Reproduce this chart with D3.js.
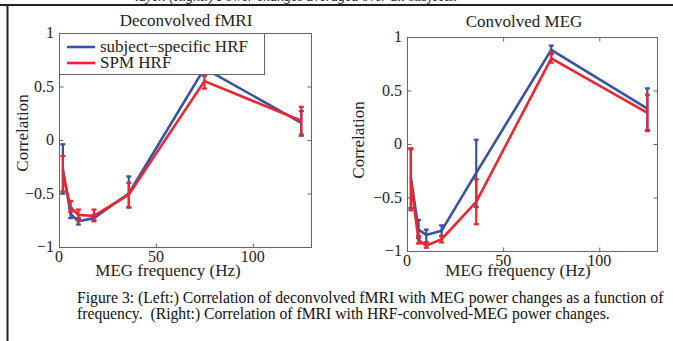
<!DOCTYPE html>
<html>
<head>
<meta charset="utf-8">
<script src="https://cdn.jsdelivr.net/npm/d3@7"></script>
<style>
  body { margin: 0; background: #fff; }
  svg text { font-family: "Liberation Serif", "Times New Roman", Times, serif; fill: #222; }
</style>
</head>
<body>
<div id="viz"></div>
<script>
// frequencies (Hz) shared by both panels
var freqs = [2, 6, 10, 18, 36, 75, 125];

// left panel: deconvolved fMRI
var leftSubjMean = [-0.27, -0.69, -0.76, -0.73, -0.50, 0.67, 0.16];
var leftSubjLo   = [-0.50, -0.73, -0.79, -0.75, -0.63, 0.60, 0.04];
var leftSubjHi   = [-0.04, -0.64, -0.73, -0.70, -0.34, 0.73, 0.27];
var leftSpmMean  = [-0.32, -0.63, -0.70, -0.71, -0.51, 0.55, 0.18];
var leftSpmLo    = [-0.48, -0.67, -0.75, -0.76, -0.63, 0.48, 0.05];
var leftSpmHi    = [-0.15, -0.57, -0.65, -0.65, -0.40, 0.61, 0.31];

// right panel: convolved MEG
var rightSubjMean = [-0.31, -0.80, -0.85, -0.81, -0.27, 0.88, 0.33];
var rightSubjLo   = [-0.60, -0.88, -0.92, -0.86, -0.59, 0.84, 0.13];
var rightSubjHi   = [-0.05, -0.71, -0.80, -0.76, 0.04, 0.92, 0.52];
var rightSpmMean  = [-0.35, -0.90, -0.95, -0.89, -0.54, 0.80, 0.29];
var rightSpmLo    = [-0.62, -0.93, -0.97, -0.92, -0.75, 0.76, 0.12];
var rightSpmHi    = [-0.04, -0.86, -0.92, -0.86, -0.33, 0.86, 0.46];

var xTicks = [0, 50, 100];
var yTicks = [-1, -0.5, 0, 0.5, 1];
var seriesNames = ["subject\u2212specific HRF", "SPM HRF"];
var blue = "#3a52a4", red = "#ec2530";
var serif = "'Liberation Serif', 'Times New Roman', Times, serif";

var svg = d3.select("#viz").append("svg")
  .attr("width", 673).attr("height", 341)
  .attr("font-family", serif);

// page frame (cut from a paper)
svg.append("text")
  .text("layer. (Right:) Power changes averaged over all subjects.")
  .attr("x", 135).attr("y", 0.5)
  .style("font-size", "14px").style("font-style", "italic");
svg.append("line").attr("x1", 0).attr("x2", 673).attr("y1", 5).attr("y2", 5)
  .attr("stroke", "#222").attr("stroke-width", 1.8);
svg.append("line").attr("x1", 7.5).attr("x2", 7.5).attr("y1", 5).attr("y2", 341)
  .attr("stroke", "#222").attr("stroke-width", 2);

function panel(opts) {
  var x = d3.scaleLinear().domain([0, 130]).range([opts.left, opts.right]);
  var y = d3.scaleLinear().domain([-1, 1]).range([opts.bottom, opts.top]);
  var g = svg.append("g");
  var fmt = d3.format("");

  // box
  g.append("rect")
    .attr("x", opts.left + 0.5).attr("y", opts.top + 0.5)
    .attr("width", opts.right - opts.left).attr("height", opts.bottom - opts.top)
    .attr("fill", "none").attr("stroke", "#666").attr("stroke-width", 1);

  // inward ticks on all four sides
  function clean(s) { s.select(".domain").remove(); s.selectAll("line").attr("stroke", "#666"); }
  g.append("g").attr("transform", "translate(0," + (opts.bottom + 0.5) + ")")
    .call(d3.axisTop(x).tickValues(xTicks).tickSize(4).tickFormat("")).call(clean);
  g.append("g").attr("transform", "translate(0," + (opts.top + 0.5) + ")")
    .call(d3.axisBottom(x).tickValues(xTicks).tickSize(4).tickFormat("")).call(clean);
  g.append("g").attr("transform", "translate(" + (opts.left + 0.5) + ",0)")
    .call(d3.axisRight(y).tickValues(yTicks).tickSize(4).tickFormat("")).call(clean);
  g.append("g").attr("transform", "translate(" + (opts.right + 0.5) + ",0)")
    .call(d3.axisLeft(y).tickValues(yTicks).tickSize(4).tickFormat("")).call(clean);

  // tick labels
  g.selectAll(".xl").data(xTicks).enter().append("text")
    .attr("x", function(d) { return x(d); }).attr("y", opts.xLabelY)
    .attr("text-anchor", "middle").style("font-size", "16px").text(fmt);
  g.selectAll(".yl").data(yTicks).enter().append("text")
    .attr("x", opts.left - 5).attr("y", function(d) { return y(d) + 5; })
    .attr("text-anchor", "end").style("font-size", "16px").text(fmt);

  // titles
  g.append("text").attr("x", opts.titleX).attr("y", opts.titleY)
    .attr("text-anchor", "middle").style("font-size", "17px").text(opts.title);
  g.append("text").attr("x", opts.xTitleX).attr("y", opts.xTitleY)
    .attr("text-anchor", "middle").style("font-size", "17px").text("MEG frequency (Hz)");
  g.append("text")
    .attr("transform", "translate(" + opts.yTitleX + "," + opts.yTitleY + ") rotate(-90)")
    .attr("text-anchor", "middle").style("font-size", "17px").text("Correlation");

  var line = d3.line().x(function(d) { return x(d.f); }).y(function(d) { return y(d.m); });

  opts.series.forEach(function(s) {
    var pts = freqs.map(function(f, i) { return { f: f, m: s.mean[i], lo: s.lo[i], hi: s.hi[i] }; });
    var sg = g.append("g");
    sg.append("path").datum(pts).attr("d", line)
      .attr("fill", "none").attr("stroke", s.color).attr("stroke-width", 2.6)
      .attr("stroke-linejoin", "round");
    var eb = sg.selectAll(".eb").data(pts).enter().append("g");
    eb.append("line")
      .attr("x1", function(d) { return x(d.f); }).attr("x2", function(d) { return x(d.f); })
      .attr("y1", function(d) { return y(d.lo); }).attr("y2", function(d) { return y(d.hi); })
      .attr("stroke", s.color).attr("stroke-width", 2.2);
    ["lo", "hi"].forEach(function(k) {
      eb.append("line")
        .attr("x1", function(d) { return x(d.f) - 2.5; }).attr("x2", function(d) { return x(d.f) + 2.5; })
        .attr("y1", function(d) { return y(d[k]); }).attr("y2", function(d) { return y(d[k]); })
        .attr("stroke", s.color).attr("stroke-width", 2.2);
    });
  });

  if (opts.legend) {
    var lg = g.append("g");
    lg.append("rect").attr("x", opts.left + 0.5).attr("y", opts.top + 0.5)
      .attr("width", 205).attr("height", 41)
      .attr("fill", "#fff").attr("stroke", "#666").attr("stroke-width", 1);
    seriesNames.forEach(function(n, i) {
      var yy = opts.top + 14 + i * 16;
      lg.append("line").attr("x1", opts.left + 8).attr("x2", opts.left + 36)
        .attr("y1", yy).attr("y2", yy)
        .attr("stroke", i === 0 ? blue : red).attr("stroke-width", 2.6);
      lg.append("text").attr("x", opts.left + 41).attr("y", yy + 5)
        .style("font-size", "17px").text(n);
    });
  }
}

panel({
  left: 59, right: 311, top: 33, bottom: 247,
  title: "Deconvolved fMRI", titleX: 186, titleY: 26,
  xLabelY: 262, xTitleX: 168, xTitleY: 276,
  yTitleX: 28, yTitleY: 133, legend: true,
  series: [
    { mean: leftSubjMean, lo: leftSubjLo, hi: leftSubjHi, color: blue },
    { mean: leftSpmMean, lo: leftSpmLo, hi: leftSpmHi, color: red }
  ]
});

panel({
  left: 407, right: 657, top: 37, bottom: 251,
  title: "Convolved MEG", titleX: 524, titleY: 27,
  xLabelY: 266, xTitleX: 518, xTitleY: 276,
  yTitleX: 364, yTitleY: 140, legend: false,
  series: [
    { mean: rightSubjMean, lo: rightSubjLo, hi: rightSubjHi, color: blue },
    { mean: rightSpmMean, lo: rightSpmLo, hi: rightSpmHi, color: red }
  ]
});

// caption
svg.append("text").attr("x", 77).attr("y", 303).style("font-size", "15.7px").style("fill", "#111")
  .text("Figure 3: (Left:) Correlation of deconvolved fMRI with MEG power changes as a function of");
svg.append("text").attr("x", 77).attr("y", 318.5).style("font-size", "15.7px").style("fill", "#111")
  .style("white-space", "pre")
  .text("frequency.  (Right:) Correlation of fMRI with HRF-convolved-MEG power changes.");
</script>
</body>
</html>
